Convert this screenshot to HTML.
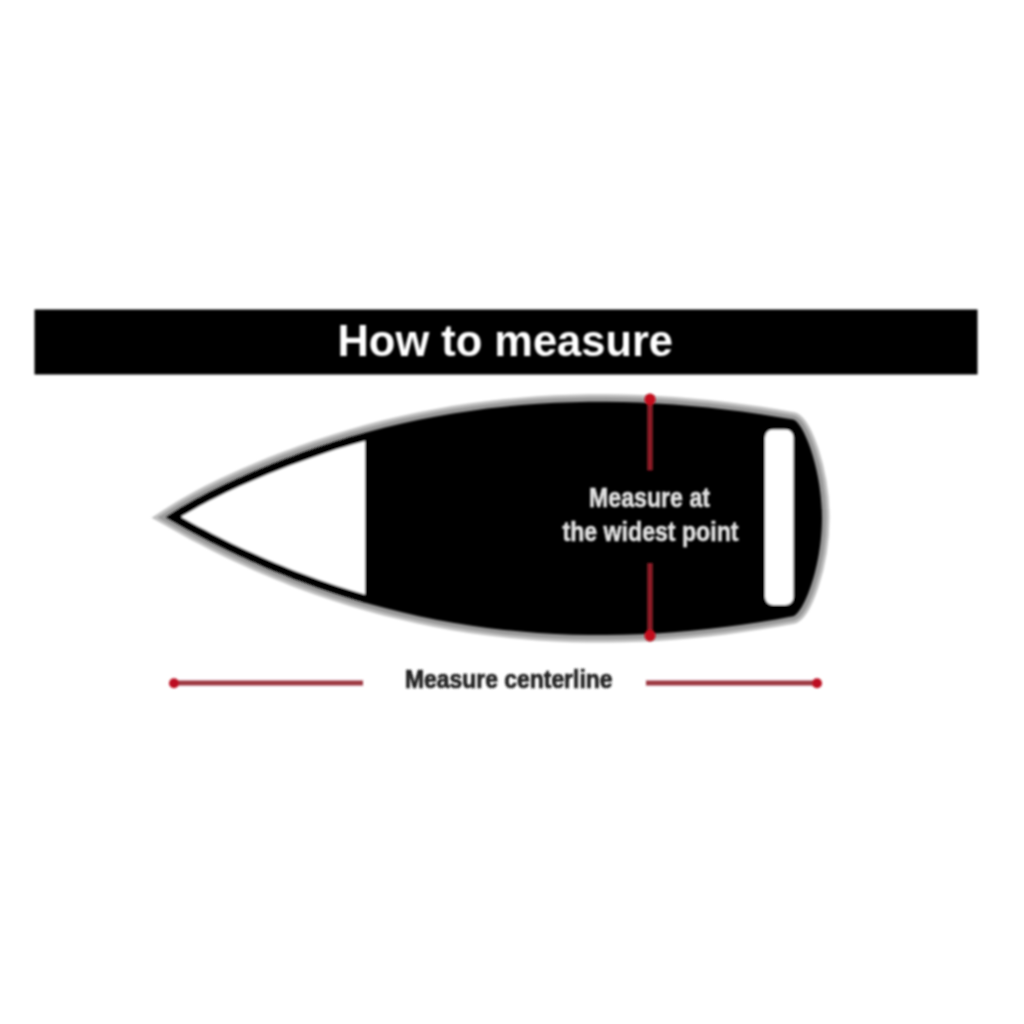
<!DOCTYPE html>
<html>
<head>
<meta charset="utf-8">
<style>
html,body{margin:0;padding:0;background:#fff;width:1024px;height:1024px;overflow:hidden;}
svg{display:block;}
</style>
</head>
<body>
<svg width="1024" height="1024" viewBox="0 0 1024 1024">
<defs>
<filter id="bl" x="-10%" y="-30%" width="120%" height="160%"><feGaussianBlur stdDeviation="1.3"/></filter>
<filter id="bl1" x="-10%" y="-30%" width="120%" height="160%"><feGaussianBlur stdDeviation="0.8"/></filter>
<filter id="bl2" x="-10%" y="-30%" width="120%" height="160%"><feGaussianBlur stdDeviation="1.0"/></filter>
<clipPath id="hc"><path d="M166.0 517.3 173.1 512.7 180.1 508.3 187.2 504.2 194.2 500.2 201.3 496.4 208.3 492.7 215.4 489.2 222.4 485.8 229.5 482.5 236.5 479.3 243.6 476.2 250.6 473.1 257.7 470.1 264.7 467.2 271.8 464.3 278.8 461.5 285.9 458.8 292.9 456.2 300.0 453.6 317.0 447.6 334.0 442.0 351.0 436.8 368.0 432.0 385.0 427.6 402.0 423.5 419.0 419.8 436.0 416.5 453.0 413.5 470.0 410.9 487.0 408.6 504.0 406.7 521.0 405.1 538.0 403.8 555.0 402.8 572.0 402.2 589.0 401.8 606.0 401.8 623.0 402.0 640.0 402.6 657.0 403.4 674.0 404.5 691.0 405.9 708.0 407.5 725.0 409.5 742.0 411.6 759.0 414.0 776.0 416.7 793.0 419.6 C803 421.4 822 468 822 518 C822 568 803 614.4 793 616.3 L793.0 616.3 776.0 619.4 759.0 622.2 742.0 624.7 725.0 627.0 708.0 629.0 691.0 630.8 674.0 632.2 657.0 633.4 640.0 634.3 623.0 634.8 606.0 635.1 589.0 635.0 572.0 634.7 555.0 634.0 538.0 633.0 521.0 631.6 504.0 629.9 487.0 627.9 470.0 625.5 453.0 622.8 436.0 619.7 419.0 616.2 402.0 612.3 385.0 608.1 368.0 603.5 351.0 598.5 334.0 593.1 317.0 587.3 300.0 581.1 292.9 578.4 285.9 575.6 278.8 572.8 271.8 569.9 264.7 566.9 257.7 563.8 250.6 560.7 243.6 557.5 236.5 554.2 229.5 550.9 222.4 547.5 215.4 544.0 208.3 540.4 201.3 536.7 194.2 533.0 187.2 529.2 180.1 525.3 173.1 521.3 166.0 517.3 Z"/></clipPath>
<clipPath id="lc"><rect x="100" y="380" width="265" height="280"/></clipPath>
</defs>
<rect x="0" y="0" width="1024" height="1024" fill="#fff"/>
<!-- header bar -->
<rect x="34.5" y="309.5" width="943" height="65" fill="#000" filter="url(#bl1)"/>
<text x="337.5" y="356" fill="#fff" font-family="Liberation Sans, sans-serif" font-weight="bold" font-size="45" textLength="335.5" lengthAdjust="spacingAndGlyphs" filter="url(#bl1)">How to measure</text>

<!-- hull -->
<g filter="url(#bl)"><path d="M166.0 517.3 173.1 512.7 180.1 508.3 187.2 504.2 194.2 500.2 201.3 496.4 208.3 492.7 215.4 489.2 222.4 485.8 229.5 482.5 236.5 479.3 243.6 476.2 250.6 473.1 257.7 470.1 264.7 467.2 271.8 464.3 278.8 461.5 285.9 458.8 292.9 456.2 300.0 453.6 317.0 447.6 334.0 442.0 351.0 436.8 368.0 432.0 385.0 427.6 402.0 423.5 419.0 419.8 436.0 416.5 453.0 413.5 470.0 410.9 487.0 408.6 504.0 406.7 521.0 405.1 538.0 403.8 555.0 402.8 572.0 402.2 589.0 401.8 606.0 401.8 623.0 402.0 640.0 402.6 657.0 403.4 674.0 404.5 691.0 405.9 708.0 407.5 725.0 409.5 742.0 411.6 759.0 414.0 776.0 416.7 793.0 419.6 C803 421.4 822 468 822 518 C822 568 803 614.4 793 616.3 L793.0 616.3 776.0 619.4 759.0 622.2 742.0 624.7 725.0 627.0 708.0 629.0 691.0 630.8 674.0 632.2 657.0 633.4 640.0 634.3 623.0 634.8 606.0 635.1 589.0 635.0 572.0 634.7 555.0 634.0 538.0 633.0 521.0 631.6 504.0 629.9 487.0 627.9 470.0 625.5 453.0 622.8 436.0 619.7 419.0 616.2 402.0 612.3 385.0 608.1 368.0 603.5 351.0 598.5 334.0 593.1 317.0 587.3 300.0 581.1 292.9 578.4 285.9 575.6 278.8 572.8 271.8 569.9 264.7 566.9 257.7 563.8 250.6 560.7 243.6 557.5 236.5 554.2 229.5 550.9 222.4 547.5 215.4 544.0 208.3 540.4 201.3 536.7 194.2 533.0 187.2 529.2 180.1 525.3 173.1 521.3 166.0 517.3 Z" fill="none" stroke="#c0c0c0" stroke-width="15" stroke-linejoin="miter" stroke-miterlimit="10"/><path d="M166.0 517.3 173.1 512.7 180.1 508.3 187.2 504.2 194.2 500.2 201.3 496.4 208.3 492.7 215.4 489.2 222.4 485.8 229.5 482.5 236.5 479.3 243.6 476.2 250.6 473.1 257.7 470.1 264.7 467.2 271.8 464.3 278.8 461.5 285.9 458.8 292.9 456.2 300.0 453.6 317.0 447.6 334.0 442.0 351.0 436.8 368.0 432.0 385.0 427.6 402.0 423.5 419.0 419.8 436.0 416.5 453.0 413.5 470.0 410.9 487.0 408.6 504.0 406.7 521.0 405.1 538.0 403.8 555.0 402.8 572.0 402.2 589.0 401.8 606.0 401.8 623.0 402.0 640.0 402.6 657.0 403.4 674.0 404.5 691.0 405.9 708.0 407.5 725.0 409.5 742.0 411.6 759.0 414.0 776.0 416.7 793.0 419.6 C803 421.4 822 468 822 518 C822 568 803 614.4 793 616.3 L793.0 616.3 776.0 619.4 759.0 622.2 742.0 624.7 725.0 627.0 708.0 629.0 691.0 630.8 674.0 632.2 657.0 633.4 640.0 634.3 623.0 634.8 606.0 635.1 589.0 635.0 572.0 634.7 555.0 634.0 538.0 633.0 521.0 631.6 504.0 629.9 487.0 627.9 470.0 625.5 453.0 622.8 436.0 619.7 419.0 616.2 402.0 612.3 385.0 608.1 368.0 603.5 351.0 598.5 334.0 593.1 317.0 587.3 300.0 581.1 292.9 578.4 285.9 575.6 278.8 572.8 271.8 569.9 264.7 566.9 257.7 563.8 250.6 560.7 243.6 557.5 236.5 554.2 229.5 550.9 222.4 547.5 215.4 544.0 208.3 540.4 201.3 536.7 194.2 533.0 187.2 529.2 180.1 525.3 173.1 521.3 166.0 517.3 Z" fill="none" stroke="#9a9a9a" stroke-width="9" stroke-linejoin="miter" stroke-miterlimit="10"/></g>
<g filter="url(#bl1)">
<path d="M166.0 517.3 173.1 512.7 180.1 508.3 187.2 504.2 194.2 500.2 201.3 496.4 208.3 492.7 215.4 489.2 222.4 485.8 229.5 482.5 236.5 479.3 243.6 476.2 250.6 473.1 257.7 470.1 264.7 467.2 271.8 464.3 278.8 461.5 285.9 458.8 292.9 456.2 300.0 453.6 317.0 447.6 334.0 442.0 351.0 436.8 368.0 432.0 385.0 427.6 402.0 423.5 419.0 419.8 436.0 416.5 453.0 413.5 470.0 410.9 487.0 408.6 504.0 406.7 521.0 405.1 538.0 403.8 555.0 402.8 572.0 402.2 589.0 401.8 606.0 401.8 623.0 402.0 640.0 402.6 657.0 403.4 674.0 404.5 691.0 405.9 708.0 407.5 725.0 409.5 742.0 411.6 759.0 414.0 776.0 416.7 793.0 419.6 C803 421.4 822 468 822 518 C822 568 803 614.4 793 616.3 L793.0 616.3 776.0 619.4 759.0 622.2 742.0 624.7 725.0 627.0 708.0 629.0 691.0 630.8 674.0 632.2 657.0 633.4 640.0 634.3 623.0 634.8 606.0 635.1 589.0 635.0 572.0 634.7 555.0 634.0 538.0 633.0 521.0 631.6 504.0 629.9 487.0 627.9 470.0 625.5 453.0 622.8 436.0 619.7 419.0 616.2 402.0 612.3 385.0 608.1 368.0 603.5 351.0 598.5 334.0 593.1 317.0 587.3 300.0 581.1 292.9 578.4 285.9 575.6 278.8 572.8 271.8 569.9 264.7 566.9 257.7 563.8 250.6 560.7 243.6 557.5 236.5 554.2 229.5 550.9 222.4 547.5 215.4 544.0 208.3 540.4 201.3 536.7 194.2 533.0 187.2 529.2 180.1 525.3 173.1 521.3 166.0 517.3 Z" fill="#000"/>
<g clip-path="url(#hc)"><path d="M166.0 517.3 173.1 512.7 180.1 508.3 187.2 504.2 194.2 500.2 201.3 496.4 208.3 492.7 215.4 489.2 222.4 485.8 229.5 482.5 236.5 479.3 243.6 476.2 250.6 473.1 257.7 470.1 264.7 467.2 271.8 464.3 278.8 461.5 285.9 458.8 292.9 456.2 300.0 453.6 317.0 447.6 334.0 442.0 351.0 436.8 368.0 432.0 385.0 427.6 402.0 423.5 419.0 419.8 436.0 416.5 453.0 413.5 470.0 410.9 487.0 408.6 504.0 406.7 521.0 405.1 538.0 403.8 555.0 402.8 572.0 402.2 589.0 401.8 606.0 401.8 623.0 402.0 640.0 402.6 657.0 403.4 674.0 404.5 691.0 405.9 708.0 407.5 725.0 409.5 742.0 411.6 759.0 414.0 776.0 416.7 793.0 419.6 C803 421.4 822 468 822 518 C822 568 803 614.4 793 616.3 L793.0 616.3 776.0 619.4 759.0 622.2 742.0 624.7 725.0 627.0 708.0 629.0 691.0 630.8 674.0 632.2 657.0 633.4 640.0 634.3 623.0 634.8 606.0 635.1 589.0 635.0 572.0 634.7 555.0 634.0 538.0 633.0 521.0 631.6 504.0 629.9 487.0 627.9 470.0 625.5 453.0 622.8 436.0 619.7 419.0 616.2 402.0 612.3 385.0 608.1 368.0 603.5 351.0 598.5 334.0 593.1 317.0 587.3 300.0 581.1 292.9 578.4 285.9 575.6 278.8 572.8 271.8 569.9 264.7 566.9 257.7 563.8 250.6 560.7 243.6 557.5 236.5 554.2 229.5 550.9 222.4 547.5 215.4 544.0 208.3 540.4 201.3 536.7 194.2 533.0 187.2 529.2 180.1 525.3 173.1 521.3 166.0 517.3 Z" fill="#fff" stroke="#000" stroke-width="15.5" stroke-linejoin="miter" stroke-miterlimit="10" clip-path="url(#lc)"/></g>
<rect x="765" y="429.5" width="28.5" height="175.5" rx="8" fill="#fff"/>
</g>

<!-- red vertical -->
<g filter="url(#bl1)">
<line x1="650" y1="399" x2="650" y2="470.5" stroke="#8c1c26" stroke-width="5.5"/>
<ellipse cx="650" cy="399.5" rx="5.5" ry="6" fill="#c40a1a"/>
<line x1="650" y1="563" x2="650" y2="636" stroke="#8c1c26" stroke-width="5.5"/>
<ellipse cx="650" cy="635.5" rx="5.5" ry="6" fill="#c40a1a"/>
</g>

<text x="589" y="506.5" fill="#e2e2e2" stroke="#e2e2e2" stroke-width="0.6" font-family="Liberation Sans, sans-serif" font-weight="bold" font-size="28" textLength="121" lengthAdjust="spacingAndGlyphs" filter="url(#bl2)">Measure at</text>
<text x="562.5" y="540.6" fill="#e2e2e2" stroke="#e2e2e2" stroke-width="0.6" font-family="Liberation Sans, sans-serif" font-weight="bold" font-size="28" textLength="176" lengthAdjust="spacingAndGlyphs" filter="url(#bl2)">the widest point</text>

<!-- centerline -->
<g filter="url(#bl1)">
<line x1="174" y1="683" x2="363" y2="683" stroke="#9c3440" stroke-width="4.8"/>
<circle cx="174" cy="683.2" r="5" fill="#bc0c20"/>
<line x1="646" y1="683" x2="817" y2="683" stroke="#9c3440" stroke-width="4.8"/>
<circle cx="817" cy="683.2" r="5" fill="#bc0c20"/>
</g>
<text x="405" y="688" fill="#222" stroke="#222" stroke-width="0.7" font-family="Liberation Sans, sans-serif" font-weight="bold" font-size="25" textLength="207.5" lengthAdjust="spacingAndGlyphs" filter="url(#bl2)">Measure centerline</text>
</svg>
</body>
</html>
